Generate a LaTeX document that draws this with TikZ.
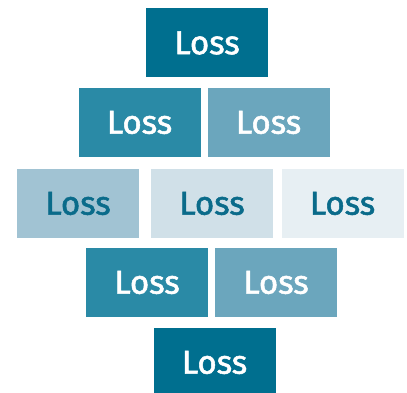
\documentclass[tikz,border=0pt]{standalone}
\usepackage{fontspec}
\setmainfont{Fira Sans}
\newfontfamily\lossfont{Fira Sans}[FakeBold=1.6]
\definecolor{cA}{HTML}{006F8F}
\definecolor{cB}{HTML}{2A8AA6}
\definecolor{cC}{HTML}{6BA6BD}
\definecolor{cD}{HTML}{A1C3D3}
\definecolor{cE}{HTML}{D0E0E8}
\definecolor{cF}{HTML}{E7EFF3}
\definecolor{txtdark}{HTML}{0A6B8A}
\tikzset{
  lossbox/.style={rectangle, minimum width=122pt, minimum height=69pt, inner sep=0pt,
    font=\lossfont\fontsize{33}{33}\selectfont},
  darkbox/.style={lossbox, fill=#1, text=white},
  lightbox/.style={lossbox, fill=#1, text=txtdark}
}
\begin{document}
\begin{tikzpicture}[x=1pt,y=-1pt]
\useasboundingbox (0,0) rectangle (407,393);
\clip (0,0) rectangle (407,393);
\node[darkbox=cA] (r1) at (207,43) {Loss};
\node[darkbox=cB] (r2a) at (139.5,122.5) {Loss};
\node[darkbox=cC] (r2b) at (268.5,122.5) {Loss};
\node[lightbox=cD] (r3a) at (78,203.5) {Loss};
\node[lightbox=cE] (r3b) at (212,203.5) {Loss};
\node[lightbox=cF] (r3c) at (342.5,203.5) {Loss};
\node[darkbox=cB] (r4a) at (147,282.5) {Loss};
\node[darkbox=cC] (r4b) at (276,282.5) {Loss};
\node[darkbox=cA] (r5) at (214.5,362.5) {Loss};
\end{tikzpicture}
\end{document}
